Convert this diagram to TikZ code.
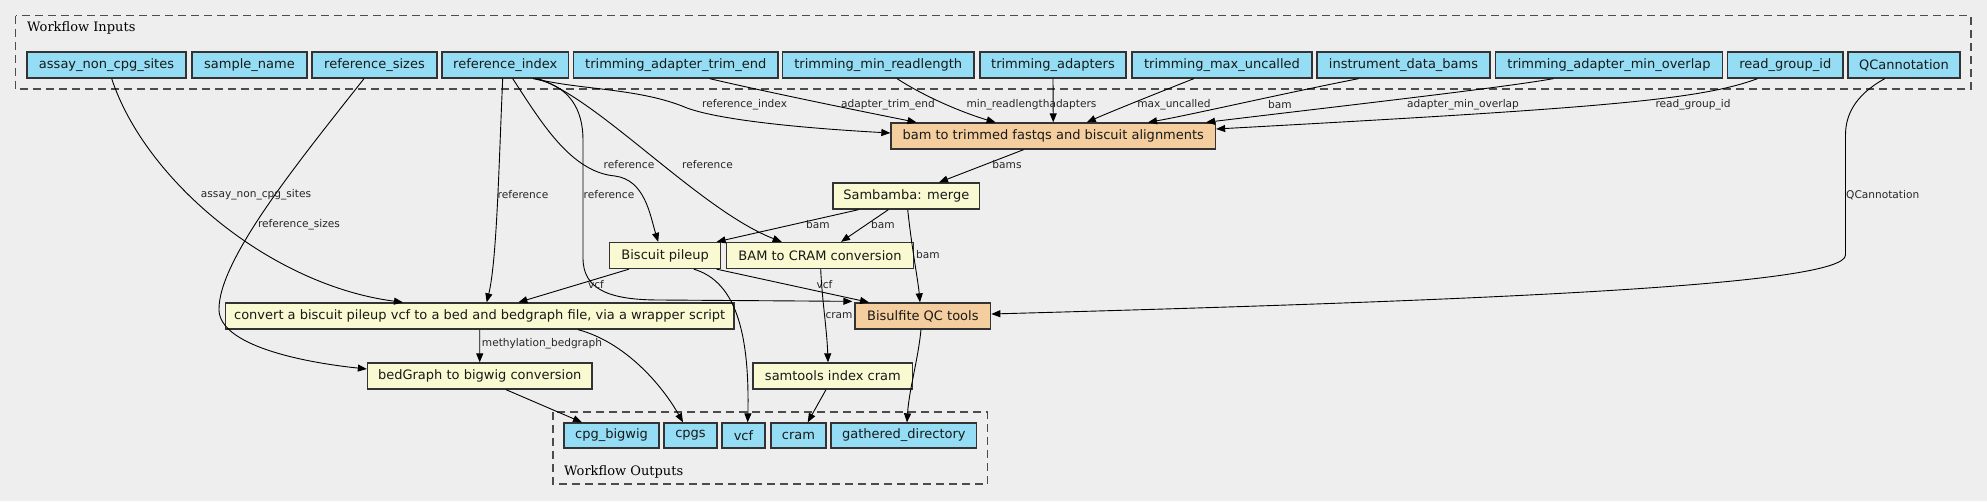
\documentclass[tikz,border=0pt]{standalone}
\usepackage{fontspec}
\setmainfont{DejaVu Sans}
\newfontfamily\clusterfont{DejaVu Serif}
\usetikzlibrary{arrows.meta}
\definecolor{bgcol}{HTML}{EEEEEE}
\definecolor{inblue}{HTML}{94DDF4}
\definecolor{stepyellow}{HTML}{FAFAD2}
\definecolor{toolorange}{HTML}{F4CE9E}
\newcommand{\nodefont}{\fontsize{13}{15}\selectfont}
\newcommand{\lblfont}{\fontsize{10.6}{12}\selectfont}
\newcommand{\titlefont}{\clusterfont\fontsize{13}{15}\selectfont}

\tikzset{
  wfbox/.style={draw=black!80, line width=1.3pt, minimum height=26pt, inner sep=2pt, font=\nodefont, text=black!90},
  inbox/.style={wfbox, fill=inblue},
  stepbox/.style={wfbox, fill=stepyellow},
  toolbox/.style={wfbox, fill=toolorange},
  lbl/.style={font=\lblfont, inner sep=0pt, text=black!85},
  wire/.style={->, line width=0.9pt},
  cluster/.style={draw=black!70, dash pattern=on 8pt off 5pt, line width=1.3pt}
}

\begin{document}
\begin{tikzpicture}[x=1pt,y=-1pt,>={Triangle[length=9pt,width=7pt]}]
  \fill[bgcol] (0,0) rectangle (1987,501);
  \useasboundingbox (0,0) rectangle (1987,501);

  % clusters
  \draw[cluster] (15.7,15.7) rectangle (1971,89);
  \node[anchor=west, font=\titlefont, inner sep=0pt] (intitle) at (27,27.5) {Workflow Inputs};
  \draw[cluster] (553,412) rectangle (987.7,484);
  \node[anchor=west, font=\titlefont, inner sep=0pt] (outtitle) at (564,471.5) {Workflow Outputs};

  % inputs
  \foreach \n/\cx/\w/\t in {ancs/106.5/159/assay\_non\_cpg\_sites, sname/249.5/115/sample\_name,
      refsz/374.5/125/reference\_sizes, refidx/505.3/126.6/reference\_index,
      trimend/675.75/204.5/trimming\_adapter\_trim\_end, minlen/878.25/191.5/trimming\_min\_readlength,
      adapt/1053/146/trimming\_adapters, maxunc/1222/180/trimming\_max\_uncalled,
      bams/1403.5/173/instrument\_data\_bams, minovl/1609/227/trimming\_adapter\_min\_overlap,
      rgid/1785.3/115.4/read\_group\_id, qcann/1904/112/QCannotation}
    \node[inbox, minimum width=\w pt] (\n) at (\cx,65) {\t};

  % steps
  \node[toolbox, minimum width=324.5pt] (trim) at (1053.25,136) {bam to trimmed fastqs and biscuit alignments};
  \node[stepbox, minimum width=146.6pt] (merge) at (906.3,196) {Sambamba: merge};
  \node[stepbox, minimum width=111.2pt] (pileup) at (665.2,255.5) {Biscuit pileup};
  \node[stepbox, minimum width=187.3pt] (b2c) at (820,255.5) {BAM to CRAM conversion};
  \node[toolbox, minimum width=135.7pt] (bsqc) at (922.85,316) {Bisulfite QC tools};
  \node[stepbox, minimum width=508.6pt] (conv) at (479.7,316) {convert a biscuit pileup vcf to a bed and bedgraph file, via a wrapper script};
  \node[stepbox, minimum width=224.5pt] (bg2bw) at (479.75,376) {bedGraph to bigwig conversion};
  \node[stepbox, minimum width=159.7pt] (samidx) at (832.85,376) {samtools index cram};

  % outputs
  \foreach \n/\cx/\w/\t in {obigwig/611.5/95/cpg\_bigwig, ocpgs/690.5/53/cpgs, ovcf/743.5/43/vcf,
      ocram/798.5/55/cram, ogdir/903.85/145.7/gathered\_directory}
    \node[inbox, minimum width=\w pt, minimum height=25pt] (\n) at (\cx,435.5) {\t};

  % inputs to the trimming step
  \draw[wire] ([xshift=29.7pt]refidx.south) .. controls (580,90) and (640,88) .. (687,108)
    .. controls (720,120) and (800,128) .. ([yshift=3pt]trim.west);
  \draw[wire] ([xshift=33.85pt]trimend.south) .. controls (780,95) and (880,115) .. ([xshift=-136.75pt]trim.north);
  \draw[wire] ([xshift=18.75pt]minlen.south) .. controls (930,100) and (970,115) .. ([xshift=-57.65pt]trim.north);
  \draw[wire] (adapt.south) -- (trim.north);
  \draw[wire] ([xshift=-28.2pt]maxunc.south) .. controls (1160,92) and (1110,112) .. ([xshift=33.55pt]trim.north);
  \draw[wire] ([xshift=-44.9pt]bams.south) .. controls (1290,92) and (1190,115) .. ([xshift=94.75pt]trim.north);
  \draw[wire] ([xshift=-55.5pt]minovl.south) .. controls (1500,88) and (1350,105) .. ([xshift=152.75pt]trim.north);
  \draw[wire] ([xshift=-27.8pt]rgid.south) .. controls (1700,100) and (1600,108) .. ([yshift=7pt]trim.east);
  \node[lbl] (l-refidx) at (744.6,105) {reference\_index};
  \node[lbl] (l-trimend) at (888,105) {adapter\_trim\_end};
  \node[lbl] (l-minlen) at (1008,105) {min\_readlength};
  \node[lbl] (l-adapt) at (1073,105) {adapters};
  \node[lbl] (l-maxunc) at (1174,105) {max\_uncalled};
  \node[lbl] (l-bams) at (1280,105) {bam};
  \node[lbl] (l-minovl) at (1463,105) {adapter\_min\_overlap};
  \node[lbl] (l-rgid) at (1693,105) {read\_group\_id};

  % bams
  \draw[wire] ([xshift=-29.65pt]trim.south) -- ([xshift=32.7pt]merge.north);
  \node[lbl] (l-trimbams) at (1007,165) {bams};
  \draw[wire] ([xshift=-47.7pt]merge.south) -- ([xshift=51.4pt]pileup.north);
  \draw[wire] ([xshift=-17.9pt]merge.south) -- ([xshift=21pt]b2c.north);
  \draw[wire] ([xshift=1.4pt]merge.south) .. controls (912,250) and (918,280) .. ([xshift=-2.85pt]bsqc.north);
  \node[lbl] (l-mpile) at (818,225) {bam};
  \node[lbl] (l-mb2c) at (883,225) {bam};
  \node[lbl] (l-mqc) at (928,255) {bam};

  % reference
  \draw[wire] ([xshift=7.4pt]refidx.south) .. controls (540,120) and (570,172) .. (615,176)
    .. controls (645,180) and (650,215) .. ([xshift=-7pt]pileup.north);
  \draw[wire] ([xshift=32.7pt]refidx.south) .. controls (600,100) and (700,210) .. ([xshift=-38.3pt]b2c.north);
  \draw[wire] ([xshift=-2.6pt]refidx.south) .. controls (499,160) and (497,260) .. ([xshift=7pt]conv.north);
  \draw[wire] ([xshift=27.7pt]refidx.south) .. controls (570,85) and (583,110) .. (583,140) -- (583,258)
    .. controls (583,290) and (610,300) .. (660,300) -- ([xshift=-2pt,yshift=1pt]bsqc.north west);
  \node[lbl] (l-rpile) at (629,165) {reference};
  \node[lbl] (l-rb2c) at (707.5,165) {reference};
  \node[lbl] (l-rconv) at (523,195) {reference};
  \node[lbl] (l-rqc) at (609,195) {reference};

  % vcf and cram
  \draw[wire] ([xshift=-36.2pt]pileup.south) -- ([xshift=38.7pt]conv.north);
  \draw[wire] ([xshift=51.4pt]pileup.south) -- ([xshift=-53.85pt]bsqc.north);
  \draw[wire] ([xshift=28.6pt]pileup.south) .. controls (730,280) and (750,320) .. ([xshift=4.2pt]ovcf.north);
  \node[lbl] (l-pconv) at (596,285) {vcf};
  \node[lbl] (l-pqc) at (824.5,285) {vcf};
  \draw[wire] ([xshift=0.7pt]b2c.south) .. controls (822,300) and (827,330) .. ([xshift=-4.85pt]samidx.north);
  \node[lbl] (l-cram) at (839,316) {cram};

  % outputs
  \draw[wire] ([xshift=-6.85pt]samidx.south) -- ([xshift=9.2pt]ocram.north);
  \draw[wire] ([xshift=-1.85pt]bsqc.south) .. controls (918,360) and (909,390) .. ([xshift=3.15pt]ogdir.north);
  \draw[wire] ([xshift=98.3pt]conv.south) .. controls (625,342) and (662,385) .. ([xshift=-7.5pt]ocpgs.north);
  \draw[wire] (conv.south) -- (bg2bw.north);
  \node[lbl] (l-bedg) at (542,344) {methylation\_bedgraph};
  \draw[wire] ([xshift=26.25pt]bg2bw.south) -- ([xshift=-29.5pt]obigwig.north);

  % reference_sizes, assay_non_cpg_sites, QCannotation
  \draw[wire] ([xshift=-10.5pt]refsz.south) .. controls (300,160) and (218,260) .. (219,310)
    .. controls (220,345) and (300,362) .. ([yshift=7pt]bg2bw.west);
  \node[lbl] (l-refsz) at (299,225) {reference\_sizes};
  \draw[wire] ([xshift=5.2pt]ancs.south) .. controls (145,180) and (270,285) .. ([xshift=-76.7pt]conv.north);
  \node[lbl] (l-ancs) at (256,195) {assay\_non\_cpg\_sites};
  \draw[wire] ([xshift=-19.2pt]qcann.south) .. controls (1855,95) and (1845.5,115) .. (1845.5,135) -- (1845.5,255)
    .. controls (1845.5,285) and (1500,300) .. ([yshift=2pt]bsqc.east);
  \node[lbl] (l-qcann) at (1882.7,195) {QCannotation};
\end{tikzpicture}
\end{document}
